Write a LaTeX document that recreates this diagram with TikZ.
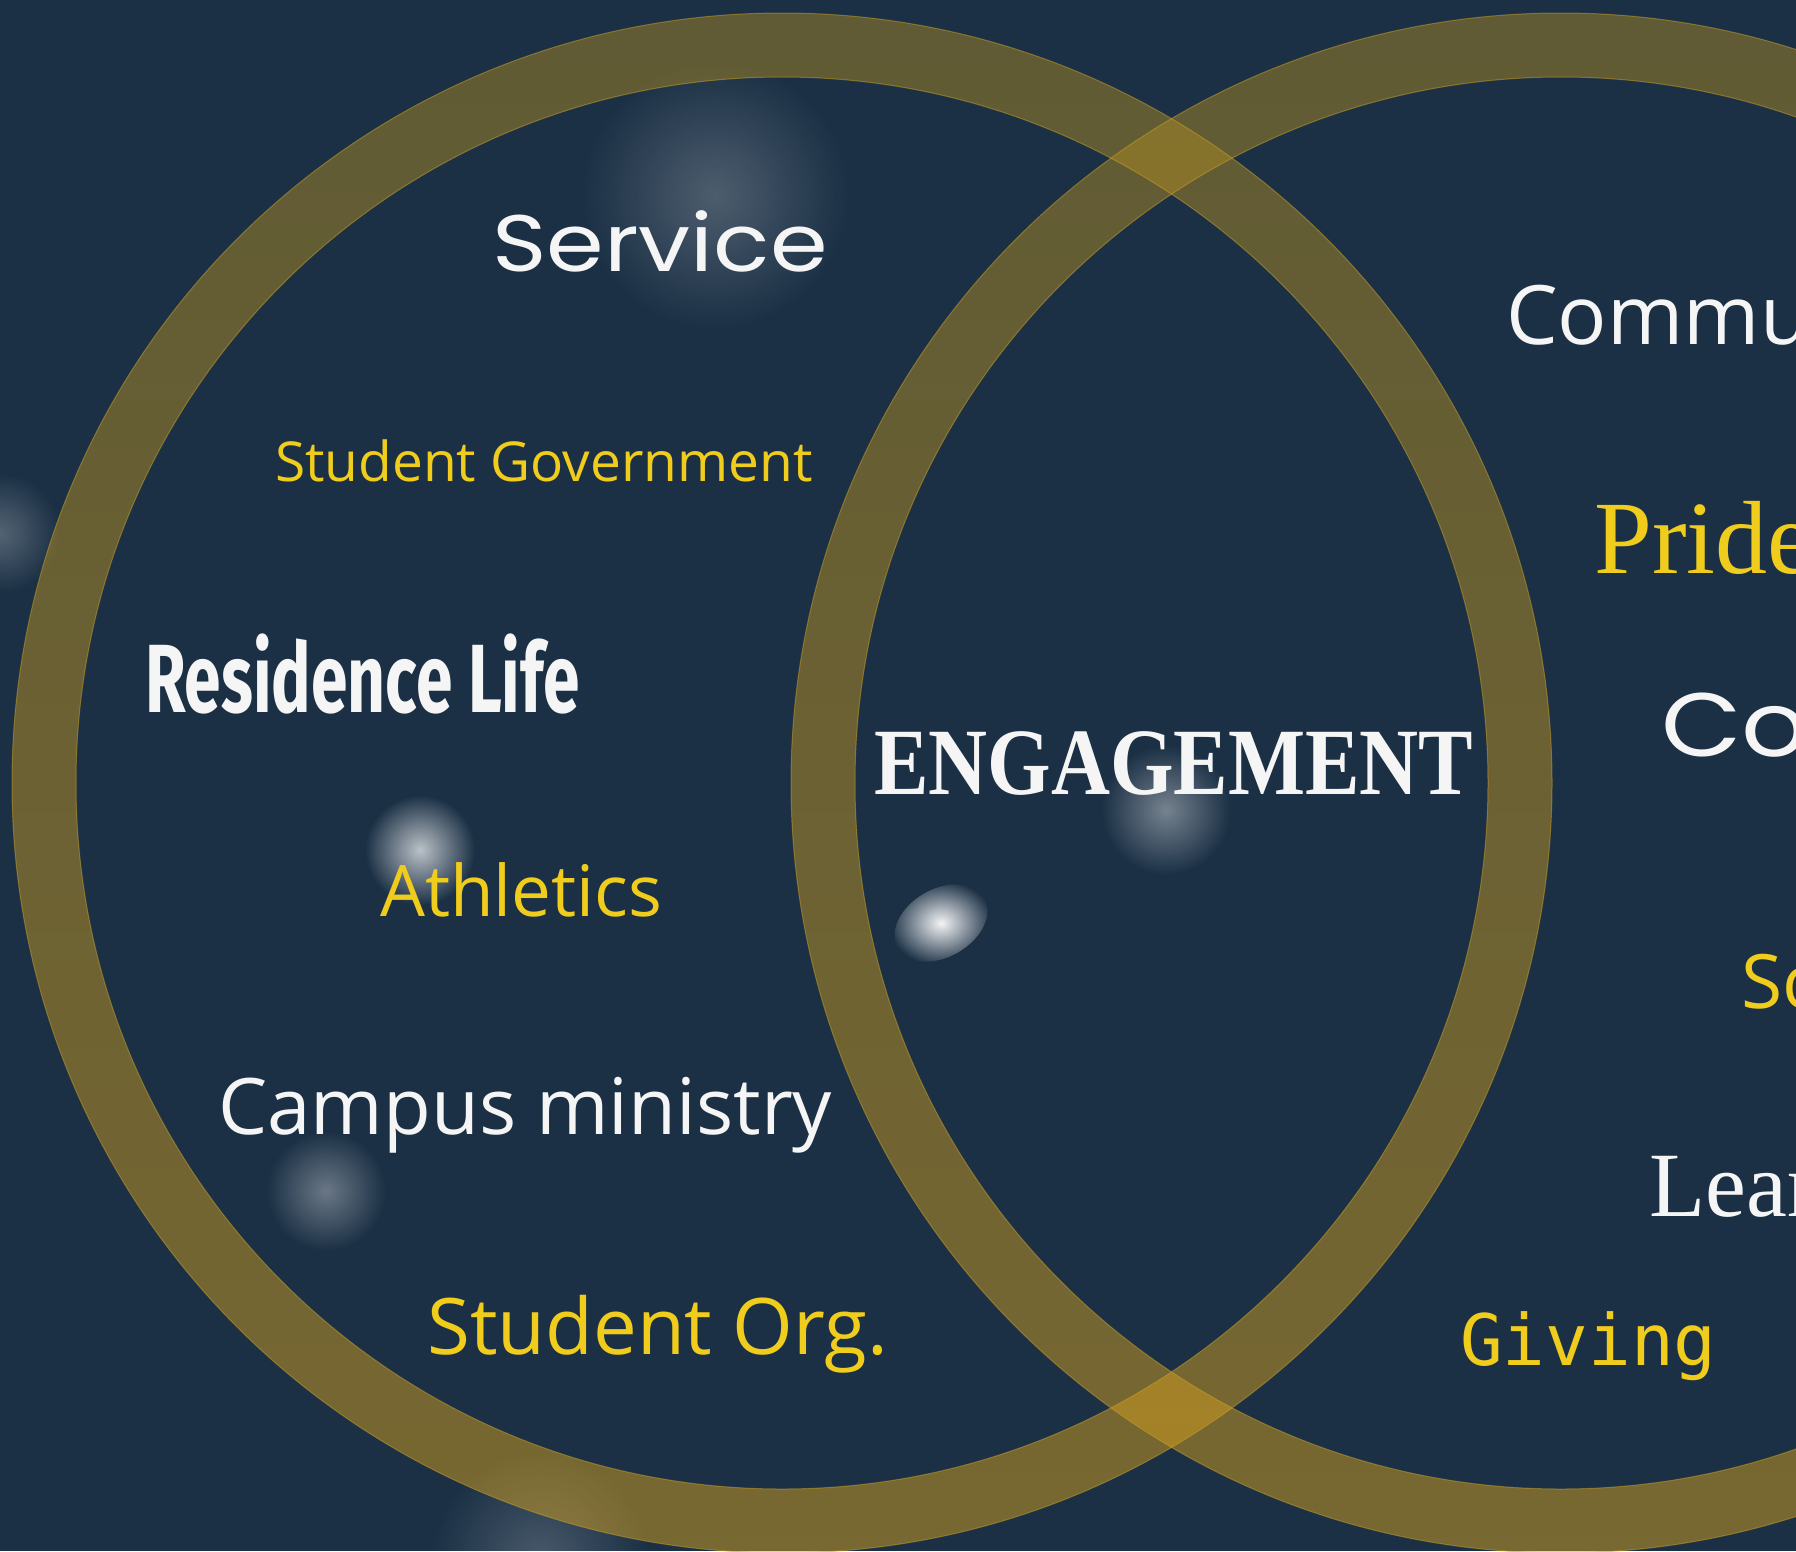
\documentclass[tikz,border=0pt]{standalone}
\usepackage{fontspec}
\usepackage{tikz}
\usetikzlibrary{fadings}

\definecolor{navy}{RGB}{27,48,69}
\definecolor{ringtop}{RGB}{165,134,37}
\definecolor{ringbot}{RGB}{213,160,31}
\definecolor{ringedge}{RGB}{200,160,40}
\definecolor{gold}{RGB}{240,204,28}
\definecolor{snow}{RGB}{245,245,245}

\newfontfamily\opensans{Open Sans}
\newfontfamily\techfont{Poppins}[FakeStretch=1.16]
\newfontfamily\condfont{Fira Sans}[FakeStretch=0.68]
\newfontfamily\serifont{Liberation Serif}
\newfontfamily\engfont{Liberation Serif}[FakeStretch=0.86]
\newfontfamily\codefont{DejaVu Sans Mono}

\tikzfading[name=softspot, inner color=transparent!0, outer color=transparent!100]

\tikzset{
  word/.style={anchor=base west, inner sep=0pt},
  plain/.style={word, text=snow},
  golden/.style={word, text=gold},
  ring/.style={even odd rule, top color=ringtop, bottom color=ringbot, fill opacity=0.5},
  glow/.style={white, path fading=softspot}
}

\begin{document}
\begin{tikzpicture}[x=1pt, y=-1pt]
    \useasboundingbox (0,0) rectangle (1796,1551);
    \clip (0,0) rectangle (1796,1551);
    \fill[navy] (0,0) rectangle (1796,1551);

    % soft light spots
    \fill[glow, opacity=0.22] (715,195) circle (135pt);
    \fill[glow, opacity=0.25] (0,533) circle (60pt);
    \fill[glow, opacity=0.7] (420,850) circle (55pt);
    \fill[glow, opacity=0.4] (1166,810) circle (65pt);
    \fill[glow, opacity=0.95, rotate around={30:(941,923)}] (941,923) ellipse (50pt and 34pt);
    \fill[glow, opacity=0.35] (326,1191) circle (60pt);
    \fill[glow, opacity=0.2] (540,1560) circle (110pt);

    % the two rings
    \coordinate (lc) at (782,783);
    \coordinate (rc) at (1561,783);
    \shade[ring] (lc) circle (770pt) (lc) circle (706pt);
    \shade[ring] (rc) circle (770pt) (rc) circle (706pt);
    \draw[ringedge, opacity=0.5, line width=1pt] (lc) circle (770pt) (lc) circle (706pt);
    \draw[ringedge, opacity=0.5, line width=1pt] (rc) circle (770pt) (rc) circle (706pt);

    % left circle
    \node[plain, font=\techfont\fontsize{80}{90}\selectfont] (service) at (492,271) {Service};
    \node[golden, font=\opensans\fontsize{55}{60}\selectfont] (gov) at (275,481) {Student Government};
    \node[plain, font=\condfont\bfseries\fontsize{97}{100}\selectfont] (reslife) at (145,712) {Residence Life};
    \node[golden, font=\opensans\fontsize{71}{80}\selectfont] (athletics) at (380,916) {Athletics};
    \node[plain, font=\opensans\fontsize{78}{86}\selectfont] (ministry) at (218,1134) {Campus ministry};
    \node[golden, font=\opensans\fontsize{78}{86}\selectfont] (org) at (427,1354) {Student Org.};

    % middle
    \node[plain, font=\engfont\bfseries\fontsize{95}{100}\selectfont] (engage) at (874,794) {ENGAGEMENT};

    % right circle
    \node[plain, font=\opensans\fontsize{82}{90}\selectfont] (community) at (1506,344) {Community};
    \node[golden, font=\serifont\fontsize{104}{110}\selectfont] (pride) at (1594,573) {Pride};
    \node[plain, font=\techfont\fontsize{90}{100}\selectfont] (connect) at (1661,756) {Connections};
    \node[golden, font=\opensans\fontsize{75}{80}\selectfont] (spirit) at (1741,1008) {School Spirit};
    \node[plain, font=\serifont\fontsize{92}{100}\selectfont] (learning) at (1649,1216) {Learning};
    \node[golden, font=\codefont\fontsize{71}{80}\selectfont] (giving) at (1460,1365) {Giving};
\end{tikzpicture}
\end{document}
